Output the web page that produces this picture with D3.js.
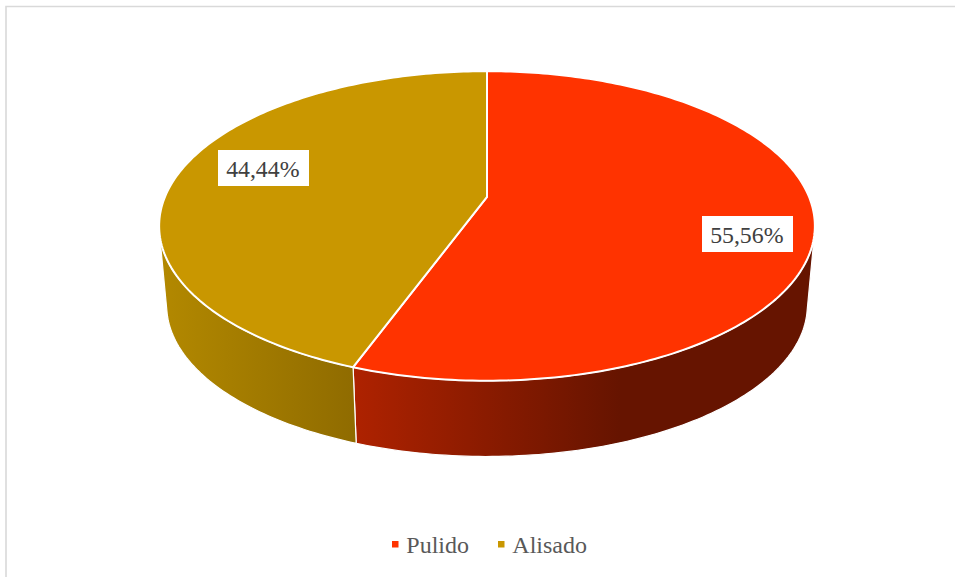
<!DOCTYPE html>
<html>
<head>
<meta charset="utf-8">
<script src="https://cdnjs.cloudflare.com/ajax/libs/d3/7.9.0/d3.min.js"></script>
<style>html,body{margin:0;padding:0;background:#fff;overflow:hidden}svg{display:block}</style>
</head>
<body>
<svg id="c" width="955" height="577"></svg>
<script>
const categories = ["Pulido", "Alisado"];
const shareValues = [55.56, 44.44];
const shareLabels = ["55,56%", "44,44%"];
const faceColors = ["#FF3300", "#C99700"];
const wallStops = [["#AE2200", "#661400"], ["#B28800", "#8F6B00"]];

const W = 955, H = 577;
const svg = d3.select("#c");

// Perspective projection of the unit disc onto the page
const cx = 487, cy = 196.8, A = 322, B = 149.3, k = -0.1883;
const depthScale = 0.977, depthShift = 84.5;
function topPt(theta) {
  const u = Math.sin(theta), v = -Math.cos(theta), w = 1 + k * v;
  return [cx + A * u / w, cy + B * v / w];
}
function bottomPt(theta) {
  const p = topPt(theta);
  return [cx + depthScale * (p[0] - cx), depthScale * p[1] + depthShift];
}
const line = d3.line();
const rad = d => d * Math.PI / 180;
function arcSamples(a, b) {
  const n = Math.max(2, Math.ceil(Math.abs(b - a) / rad(1)));
  return d3.range(n + 1).map(i => a + (b - a) * i / n);
}

svg.append("rect").attr("width", W).attr("height", H).attr("fill", "#fff");
// Chart frame
svg.append("path").attr("d", `M6,577V6.5H955`).attr("fill", "none")
   .attr("stroke", "#D9D9D9").attr("stroke-width", 1.6);

const pie = d3.pie().sort(null).value(d => d)(shareValues);

// Wall gradients
const defs = svg.append("defs");
const gradRange = [[354, 620], [165, 357]];
wallStops.forEach((s, i) => {
  const g = defs.append("linearGradient").attr("id", "wall" + i)
    .attr("gradientUnits", "userSpaceOnUse")
    .attr("x1", gradRange[i][0]).attr("x2", gradRange[i][1])
    .attr("y1", 0).attr("y2", 0);
  g.append("stop").attr("offset", 0).attr("stop-color", s[0]);
  g.append("stop").attr("offset", 1).attr("stop-color", s[1]);
});

// Walls: the visible rim runs between the silhouette tangents
const frontStart = rad(103), frontEnd = rad(257);
pie.forEach((d, i) => {
  const a = Math.max(d.startAngle, frontStart), b = Math.min(d.endAngle, frontEnd);
  if (b <= a) return;
  const s = arcSamples(a, b);
  const pts = s.map(topPt).concat(s.slice().reverse().map(bottomPt));
  svg.append("path").attr("d", line(pts) + "Z")
    .attr("fill", `url(#wall${i})`)
    .attr("stroke", "#fff").attr("stroke-width", 1.2).attr("stroke-linejoin", "round");
});

// Top faces
pie.forEach((d, i) => {
  const s = arcSamples(d.startAngle, d.endAngle);
  const pts = [[cx, cy]].concat(s.map(topPt));
  svg.append("path").attr("d", line(pts) + "Z")
    .attr("fill", faceColors[i])
    .attr("stroke", "#fff").attr("stroke-width", 2).attr("stroke-linejoin", "round");
});

// Data labels
const labelCentres = [[747.5, 234], [263.5, 168]];
const labelW = 91, labelH = 36;
const labels = svg.append("g").selectAll("g").data(shareLabels).join("g")
  .attr("transform", (d, i) => `translate(${labelCentres[i][0]},${labelCentres[i][1]})`);
labels.append("rect").attr("x", -labelW / 2).attr("y", -labelH / 2)
  .attr("width", labelW).attr("height", labelH).attr("fill", "#fff");
labels.append("text").text(d => d).attr("text-anchor", "middle").attr("x", -0.7).attr("y", 9)
  .attr("font-family", "'Liberation Serif'").attr("font-size", 23.8).attr("fill", "#404040");

// Legend
const legendX = [392, 498];
const legend = svg.append("g").selectAll("g").data(categories).join("g")
  .attr("transform", (d, i) => `translate(${legendX[i]},541)`);
legend.append("rect").attr("width", 6.5).attr("height", 6.5)
  .attr("fill", (d, i) => faceColors[i]);
legend.append("text").text(d => d).attr("x", 14.3).attr("y", 12)
  .attr("font-family", "'Liberation Serif'").attr("font-size", 24).attr("fill", "#595959");
</script>
</body>
</html>
